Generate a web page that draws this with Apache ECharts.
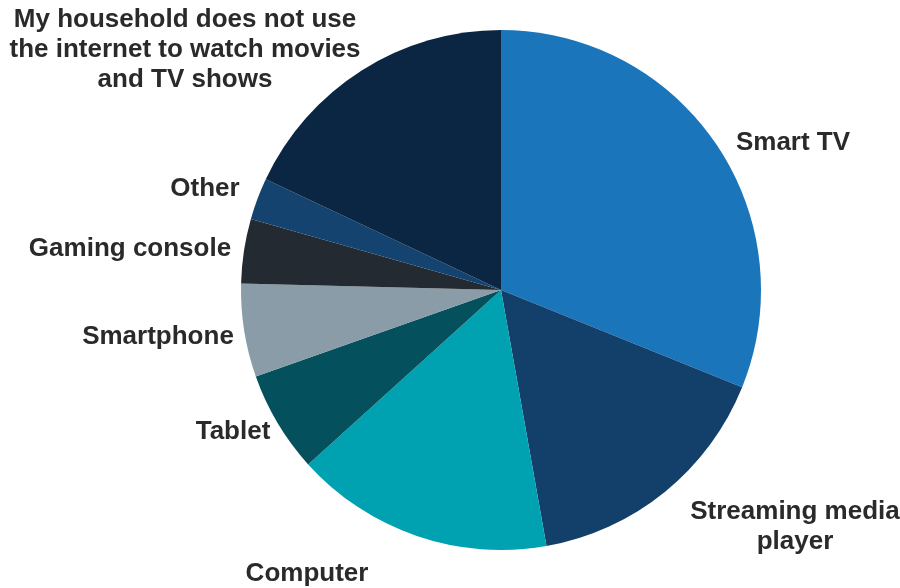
<!DOCTYPE html>
<html><head><meta charset="utf-8">
<script src="https://cdn.jsdelivr.net/npm/echarts@6/dist/echarts.min.js"></script>
<style>html,body{margin:0;padding:0;background:#fff}#c{width:900px;height:588px}</style>
</head><body><div id="c"></div>
<script>
const categories = ["Smart TV","Streaming media\nplayer","Computer","Tablet","Smartphone","Gaming console","Other","My household does not use\nthe internet to watch movies\nand TV shows"];
const values = [31.1, 16.1, 16.1, 6.3, 5.8, 4.0, 2.6, 18.0];
const colors = ["#1b75bb","#12406b","#00a1b1","#04505d","#8a9ca8","#242a31","#13436e","#0a2642"];
// label anchor points (centre of each label block)
const labelPos = [[793,143],[795,527],[307,574],[233,432],[158,337],[130,249],[205,189],[185,50]];
const chart = echarts.init(document.getElementById('c'));
chart.setOption({
  animation:false,
  series:[{
    type:'pie',
    center:[501,290],
    radius:[0,260],
    startAngle:90,
    clockwise:true,
    avoidLabelOverlap:false,
    data: categories.map((n,i)=>({name:n,value:values[i],itemStyle:{color:colors[i]}})),
    itemStyle:{borderColor:'#ffffff',borderWidth:0},
    label:{show:true,position:'outside',fontFamily:'Liberation Sans, Arial, sans-serif',fontWeight:'bold',fontSize:26,color:'#2a2a2a',lineHeight:30,align:'center'},
    labelLine:{show:false,length:14,length2:0},
    labelLayout: function(p){
      const pos = labelPos[p.dataIndex];
      return {x:pos[0], y:pos[1], align:'center', verticalAlign:'middle'};
    }
  }]
});
</script></body></html>
